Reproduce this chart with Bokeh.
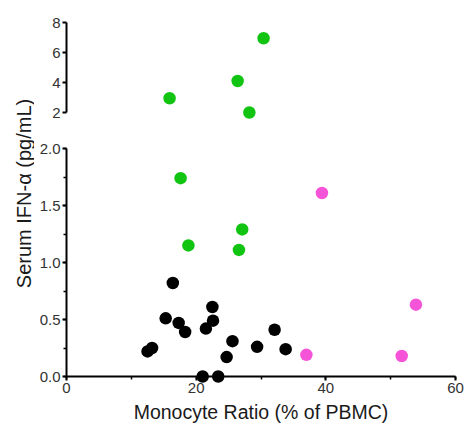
import math
from bokeh.plotting import figure
from bokeh.layouts import row, column
from bokeh.models import Range1d, SingleIntervalTicker, FixedTicker, Label, NumeralTickFormatter
from bokeh.embed import file_html
from bokeh.resources import INLINE

# ---- data ----
black_x = [12.5, 13.2, 15.3, 16.4, 17.3, 18.3, 21.0, 21.5, 22.5, 22.6, 23.4, 24.7, 25.6, 29.4, 32.1, 33.8]
black_y = [0.22, 0.25, 0.51, 0.82, 0.47, 0.39, 0.0, 0.42, 0.61, 0.49, 0.0, 0.17, 0.31, 0.26, 0.41, 0.24]
green_lo_x = [17.6, 18.8, 27.1, 26.6]
green_lo_y = [1.74, 1.15, 1.29, 1.11]
green_hi_x = [15.9, 26.4, 28.2, 30.4]
green_hi_y = [2.95, 4.1, 2.0, 6.95]
pink_x = [39.4, 37.0, 51.7, 53.9]
pink_y = [1.61, 0.19, 0.18, 0.63]

x_ticks = [0, 20, 40, 60]
lo_ticks = [0.0, 0.5, 1.0, 1.5, 2.0]
hi_ticks = [2, 4, 6, 8]

x_label = "Monocyte Ratio (% of PBMC)"
y_label = "Serum IFN-\u03b1 (pg/mL)"

GREEN = "#12C412"
PINK = "#F553D8"
BLACK = "#000000"
FONT = "Liberation Sans"
TICK_COLOR = "#333333"
DOT = 12.5

LABW = 34
MAINW = 464 - LABW


def style_axis(ax):
    ax.axis_line_width = 2
    ax.axis_line_color = "black"
    ax.major_tick_line_width = 2
    ax.minor_tick_line_width = 1.5
    ax.major_tick_in = 0
    ax.minor_tick_in = 0
    ax.major_label_text_font = FONT
    ax.major_label_text_font_size = "15px"
    ax.major_label_text_color = TICK_COLOR
    ax.axis_label_text_font = FONT
    ax.axis_label_text_font_style = "normal"
    ax.axis_label_text_color = "#1a1a1a"


# ---- upper panel (broken axis, 2..8) ----
up = figure(width=MAINW, height=130, output_backend="svg", toolbar_location=None,
            x_range=Range1d(0, 60), y_range=Range1d(2, 8),
            x_axis_location=None, min_border_left=32, min_border_right=9,
            min_border_top=22, min_border_bottom=18)
up.outline_line_color = None
up.grid.visible = False
yax = up.yaxis[0]
style_axis(yax)
yax.ticker = FixedTicker(ticks=hi_ticks)
yax.major_tick_out = 4
yax.minor_tick_out = 0
yax.major_label_standoff = 2
r = up.scatter(green_hi_x, green_hi_y, size=DOT, color=GREEN, line_color=None)
r.level = "annotation"

# ---- lower panel (0..2) ----
lo = figure(width=MAINW, height=298, output_backend="svg", toolbar_location=None,
            x_range=Range1d(0, 60), y_range=Range1d(0, 2),
            min_border_left=32, min_border_right=9, min_border_top=18, min_border_bottom=52)
lo.outline_line_color = None
lo.grid.visible = False
lx = lo.xaxis[0]
style_axis(lx)
lx.ticker = SingleIntervalTicker(interval=20, num_minor_ticks=2)
lx.major_tick_out = 4
lx.minor_tick_out = 3
lx.major_label_standoff = 2
lx.axis_label = x_label
lx.axis_label_text_font_size = "19.5px"
lx.axis_label_standoff = 5
ly = lo.yaxis[0]
style_axis(ly)
ly.ticker = SingleIntervalTicker(interval=0.5, num_minor_ticks=2)
ly.formatter = NumeralTickFormatter(format="0.0")
ly.major_tick_out = 4
ly.minor_tick_out = 3
ly.major_label_standoff = 2

for xs, ys, c in ((black_x, black_y, BLACK), (green_lo_x, green_lo_y, GREEN), (pink_x, pink_y, PINK)):
    r = lo.scatter(xs, ys, size=DOT, color=c, line_color=None)
    r.level = "annotation"

# ---- y label strip ----
lab = figure(width=LABW, height=428, output_backend="svg", toolbar_location=None,
             x_range=Range1d(0, LABW), y_range=Range1d(0, 428),
             x_axis_location=None, y_axis_location=None,
             min_border=0, min_border_left=0, min_border_right=0,
             min_border_top=0, min_border_bottom=0)
lab.outline_line_color = None
lab.grid.visible = False
lab.add_layout(Label(x=23.5, y=428 - 193, text=y_label, angle=math.pi / 2,
                     text_align="center", text_baseline="middle",
                     text_font=FONT, text_font_size="20px", text_color="#1a1a1a"))

layout = row(lab, column(up, lo, spacing=0), spacing=0)

open("out.html", "w").write(file_html(layout, INLINE))
